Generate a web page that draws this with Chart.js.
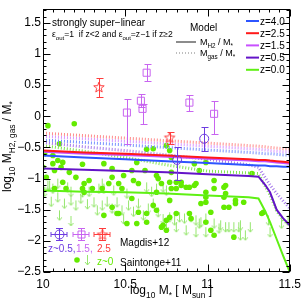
<!DOCTYPE html>
<html>
<head>
<meta charset="utf-8">
<script src="https://cdn.jsdelivr.net/npm/chart.js@4.4.1/dist/chart.umd.min.js"></script>
<style>
  html, body { margin: 0; padding: 0; background: #fff; }
</style>
</head>
<body>
<canvas id="myChart" width="306" height="302"></canvas>
<script>
// model grid in log10 M*
const massGrid = [10.0, 10.25, 10.5, 10.75, 11.0, 11.25, 11.31, 11.35, 11.38, 11.42, 11.46, 11.5];

// model M_H2 / M* (solid)
const h2Z40 = [-0.63, -0.66, -0.69, -0.72, -0.75, -0.78, -0.79, -0.79, -0.80, -0.80, -0.81, -0.81];
const h2Z25 = [-0.55, -0.58, -0.60, -0.63, -0.66, -0.69, -0.70, -0.70, -0.71, -0.72, -0.73, -0.74];
const h2Z15 = [-0.57, -0.60, -0.62, -0.65, -0.68, -0.71, -0.72, -0.72, -0.73, -0.74, -0.75, -0.76];
const h2Z05 = [-0.84, -0.86, -0.88, -0.90, -0.93, -0.96, -0.97, -1.10, -1.22, -1.50, -1.64, -1.75];
const h2Z00 = [-1.19, -1.21, -1.22, -1.24, -1.27, -1.30, -1.32, -1.52, -1.70, -1.97, -2.24, -2.50];

// model M_gas / M* (dotted)
const gasZ40 = [-0.38, -0.42, -0.46, -0.50, -0.54, -0.58, -0.59, -0.60, -0.60, -0.61, -0.62, -0.62];
const gasZ25 = [-0.27, -0.31, -0.35, -0.39, -0.43, -0.47, -0.48, -0.49, -0.50, -0.51, -0.52, -0.52];
const gasZ15 = [-0.32, -0.36, -0.40, -0.44, -0.48, -0.52, -0.53, -0.54, -0.55, -0.56, -0.57, -0.57];
const gasZ05 = [-0.42, -0.49, -0.55, -0.62, -0.69, -0.78, -0.82, -0.98, -1.10, -1.24, -1.36, -1.48];
const gasZ00 = [-0.47, -0.56, -0.66, -0.78, -0.88, -0.91, -0.92, -1.12, -1.26, -1.52, -1.66, -1.76];

// Magdis+12
const magdisZ05M = [10.98, 10.815];
const magdisZ05 = [-0.36, -0.70];
const magdisZ05Hi = [0.19, 0.20];
const magdisZ05Lo = [0.19, 0.33];
const magdisZ15M = [10.63, 10.595, 10.605, 10.51, 10.89, 11.04];
const magdisZ15 = [0.70, 0.25, 0.12, 0.06, 0.22, 0.04];
const magdisZ15Hi = [0.14, 0.11, 0.08, 0.22, 0.13, 0.21];
const magdisZ15Lo = [0.14, 0.10, 0.24, 0.50, 0.13, 0.32];
const magdisZ25M = [10.34, 10.77];
const magdisZ25 = [0.47, -0.34];
const magdisZ25Hi = [0.14, 0.09];
const magdisZ25Lo = [0.16, 0.10];

// Saintonge+11 detections [log M*, log Mgas/M*]
const saintongeDet = [
  [10.03,-0.15],[10.19,-0.12],[10.10,-0.44],[10.01,-0.60],[10.06,-0.63],[10.06,-0.76],[10.09,-0.71],
  [10.12,-0.74],[10.11,-0.82],[10.07,-0.87],[10.16,-0.90],[10.24,-0.77],[10.37,-0.76],[10.42,-0.84],
  [10.42,-0.98],[10.20,-0.98],[10.02,-0.98],[10.28,-1.03],[10.49,-0.95],[10.54,-0.87],[10.57,-0.74],
  [10.63,-0.53],[10.67,-0.52],[10.62,-0.87],[10.69,-0.95],[10.55,-1.03],[10.48,-1.16],[10.30,-1.16],
  [10.24,-1.16],[10.14,-1.16],[10.00,-0.82],[10.12,-1.06],[10.25,-1.08],[10.40,-1.08],[10.46,-1.08],
  [10.69,-1.22],[10.72,-1.08],[10.58,-1.08],[10.36,-1.16],[10.25,-1.22],[10.07,-1.16],[10.54,-1.32],
  [10.37,-1.59],[10.42,-1.46],[10.46,-1.56],[10.51,-1.72],[10.58,-1.54],[10.63,-1.56],[10.67,-1.43],
  [10.69,-1.51],[10.72,-1.78],[10.75,-1.83],[10.75,-1.67],[10.77,-1.06],[10.81,-1.16],[10.84,-1.11],
  [10.89,-1.14],[10.92,-1.11],[10.99,-1.22],[10.99,-1.30],[11.11,-1.11],[11.11,-1.24],[11.10,-1.30],
  [10.96,-1.40],[10.99,-1.38],[11.10,-1.46],[11.13,-1.46],[11.17,-1.35],[11.17,-1.40],[11.22,-1.38],
  [11.02,-1.54],[10.89,-1.56],[10.90,-1.64],[10.81,-1.56],[10.77,-1.62],[10.99,-1.70],[11.02,-1.83],
  [11.04,-1.91],[11.16,-1.94],[11.33,-1.56],[11.34,-1.54],[10.77,-1.35],[10.73,-1.75],[10.75,-0.47],
  [10.77,-0.55],[10.78,-0.66],[10.92,-0.76],[10.99,-0.74],[10.78,-0.90],[11.04,-1.03],[10.81,-1.06],
  [10.84,-1.06],[10.87,-1.14],[10.78,-1.16],[10.93,-1.08],[10.95,-0.87],[11.27,-0.92],[10.70,-1.00],
  [11.10,-1.14],[11.04,-1.16],[10.45,-1.56],[10.57,-1.72],[10.63,-1.70]
];

// Saintonge+11 upper limits
const saintongeLim = [
  [10.01,-1.13],[10.05,-1.29],[10.09,-1.22],[10.13,-1.32],[10.17,-1.27],[10.20,-1.35],[10.23,-1.24],
  [10.27,-1.33],[10.31,-1.30],[10.33,-1.43],[10.36,-1.35],[10.39,-1.29],[10.42,-1.40],[10.45,-1.30],
  [10.48,-1.43],[10.49,-1.57],[10.52,-1.35],[10.55,-1.45],[10.58,-1.32],[10.61,-1.51],[10.64,-1.40],
  [10.67,-1.32],[10.70,-1.46],[10.73,-1.57],[10.04,-1.03],[10.09,-1.00],[10.15,-1.06],[10.17,-1.13],
  [10.28,-1.13],[10.34,-1.08],[10.43,-1.11],[10.51,-1.16],[10.10,-1.51],[10.17,-1.60],[10.77,-1.54],
  [10.80,-1.59],[10.83,-1.54],[10.86,-1.56],[10.90,-1.54],[10.93,-1.59],[10.95,-1.64],[10.96,-1.62],
  [10.99,-1.56],[11.04,-1.64],[11.07,-1.72],[11.08,-1.67],[11.11,-1.70],[11.13,-1.70],[11.16,-1.70],
  [11.19,-1.70],[11.20,-1.67],[11.23,-1.83],[11.26,-1.70],[11.37,-1.59],[11.38,-1.78],[11.45,-1.64],
  [11.49,-1.59],[10.81,-1.70],[10.87,-1.75],[10.99,-1.78],[11.20,-1.83],[10.75,-1.67],[10.93,-1.78],
  [10.03,-1.03],[10.06,-1.08],[10.24,-1.14],[10.36,-1.00],[10.37,-1.08],[10.63,-1.06],[10.66,-1.13],
  [10.69,-1.08],[10.73,-1.06],[10.75,-1.11]
];

const xTicks = [10, 10.5, 11, 11.5];
const yTicks = [-2.5, -2, -1.5, -1, -0.5, 0, 0.5, 1, 1.5];

const FONT = '"Liberation Sans", Arial, sans-serif';
const C = {
  z40: 'rgb(45,85,255)', z25: 'rgb(255,25,25)', z15: 'rgb(200,80,255)',
  z05: 'rgb(100,20,200)', z00: 'rgb(95,240,20)',
  z40d: 'rgb(120,145,255)', z25d: 'rgb(255,140,140)', z15d: 'rgb(215,150,255)',
  z05d: 'rgb(165,120,235)', z00d: 'rgb(130,230,80)',
  circ: 'rgb(110,60,225)', sq: 'rgb(200,100,240)', star: 'rgb(255,60,60)',
  dot: 'rgb(100,235,0)', lim: 'rgb(150,230,110)'
};

function makeArrow(color) {
  const c = document.createElement('canvas');
  c.width = 7; c.height = 22;
  const g = c.getContext('2d');
  g.strokeStyle = color; g.lineWidth = 1;
  g.beginPath();
  g.moveTo(3.5, 11); g.lineTo(3.5, 21);
  g.moveTo(1, 18); g.lineTo(3.5, 21); g.lineTo(6, 18);
  g.stroke();
  return c;
}
function makeStar(color, R) {
  const s = Math.ceil(R * 2 + 3);
  const c = document.createElement('canvas');
  c.width = s; c.height = s;
  const g = c.getContext('2d');
  g.translate(s / 2, s / 2 + 0.5);
  g.strokeStyle = color; g.lineWidth = 1;
  g.beginPath();
  for (let i = 0; i < 10; i++) {
    const r = i % 2 ? R * 0.42 : R;
    const a = -Math.PI / 2 + i * Math.PI / 5;
    if (i === 0) g.moveTo(r * Math.cos(a), r * Math.sin(a));
    else g.lineTo(r * Math.cos(a), r * Math.sin(a));
  }
  g.closePath(); g.stroke();
  return c;
}
const arrowImg = makeArrow(C.lim);
const starImg = makeStar(C.star, 5.5);

const pts = (xs, ys) => xs.map((m, i) => ({x: m, y: ys[i]}));
const pairs = arr => arr.map(p => ({x: p[0], y: p[1]}));

function modelLine(ys, color, dotted, order) {
  return {
    data: pts(massGrid, ys), showLine: true, pointRadius: 0, fill: false, tension: 0,
    borderColor: color, borderWidth: dotted ? 3 : 2, borderDash: dotted ? [1, 2] : [],
    order: order
  };
}

// draw text with subscripts: parts = [[text, isSub], ...]
function rich(ctx, x, y, parts, size, color) {
  ctx.fillStyle = color;
  ctx.textBaseline = 'alphabetic';
  ctx.textAlign = 'left';
  let cx = x;
  parts.forEach(([t, sub]) => {
    const fs = sub ? size * 0.7 : size;
    ctx.font = fs + 'px ' + FONT;
    ctx.fillText(t, cx, y + (sub ? size * 0.3 : 0));
    cx += ctx.measureText(t).width;
  });
  return cx - x;
}

const errorBars = {
  id: 'errorBars',
  afterDatasetsDraw(chart) {
    const {ctx, scales: {x, y}} = chart;
    chart.data.datasets.forEach(ds => {
      if (!ds.errHi) return;
      ctx.save();
      ctx.strokeStyle = ds.borderColor;
      ctx.lineWidth = 1;
      ds.data.forEach((p, i) => {
        const px = Math.round(x.getPixelForValue(p.x)) + 0.5;
        const yt = Math.round(y.getPixelForValue(p.y + ds.errHi[i])) + 0.5;
        const yb = Math.round(y.getPixelForValue(p.y - ds.errLo[i])) + 0.5;
        ctx.beginPath();
        ctx.moveTo(px, yt); ctx.lineTo(px, yb);
        ctx.moveTo(px - 3, yt); ctx.lineTo(px + 4, yt);
        ctx.moveTo(px - 3, yb); ctx.lineTo(px + 4, yb);
        ctx.stroke();
      });
      ctx.restore();
    });
  }
};

const frame = {
  id: 'frame',
  afterDraw(chart) {
    const {ctx, chartArea: a, scales: {x, y}} = chart;
    const L = Math.round(a.left) + 0.5, R = Math.round(a.right) - 0.5;
    const T = Math.round(a.top) + 0.5, B = Math.round(a.bottom) - 0.5;
    ctx.save();
    ctx.strokeStyle = '#000';
    ctx.lineWidth = 1;
    ctx.strokeRect(L, T, R - L, B - T);
    ctx.beginPath();
    for (let i = 0; i <= 24; i++) {
      const v = 10 + i * 0.0625;
      const px = Math.round(x.getPixelForValue(v)) + 0.5;
      const len = i % 8 === 0 ? 7 : 3;
      ctx.moveTo(px, B); ctx.lineTo(px, B - len);
      ctx.moveTo(px, T); ctx.lineTo(px, T + len);
    }
    for (let i = 0; i <= 42; i++) {
      const v = -2.5 + i * 0.1;
      const py = Math.round(y.getPixelForValue(v)) + 0.5;
      const len = i % 5 === 0 ? 7 : 3;
      ctx.moveTo(L, py); ctx.lineTo(L + len, py);
      ctx.moveTo(R, py); ctx.lineTo(R - len, py);
    }
    ctx.stroke();
    ctx.restore();
  }
};

const labels = {
  id: 'labels',
  afterDraw(chart) {
    const ctx = chart.ctx;
    ctx.save();
    // axis titles
    rich(ctx, 130, 294, [['log', 0], ['10', 1], [' M', 0], ['*', 1], [' [ M', 0], ['sun', 1], [' ]', 0]], 12, '#000');
    ctx.save();
    ctx.translate(11, 192);
    ctx.rotate(-Math.PI / 2);
    rich(ctx, 0, 0, [['log', 0], ['10', 1], [' M', 0], ['H2, gas', 1], [' / M', 0], ['*', 1]], 12, '#000');
    ctx.restore();

    // top-left annotation
    rich(ctx, 52, 26, [['strongly super\u2212linear', 0]], 10, '#000');
    rich(ctx, 52, 37, [['\u03b5', 0], ['out', 1], ['=1  if z<2 and \u03b5', 0], ['out', 1], ['=z\u22121 if z\u22652', 0]], 8.6, '#000');

    // model legend
    rich(ctx, 190, 31, [['Model', 0]], 10, '#000');
    ctx.lineWidth = 2;
    ctx.strokeStyle = 'rgb(140,140,140)';
    ctx.beginPath(); ctx.moveTo(176, 42); ctx.lineTo(196, 42); ctx.stroke();
    ctx.strokeStyle = 'rgb(190,190,190)';
    ctx.setLineDash([1, 2]);
    ctx.beginPath(); ctx.moveTo(176, 53); ctx.lineTo(196, 53); ctx.stroke();
    ctx.setLineDash([]);
    rich(ctx, 200, 45, [['M', 0], ['H2', 1], [' / M', 0], ['*', 1]], 9, '#000');
    rich(ctx, 200, 56, [['M', 0], ['gas', 1], [' / M', 0], ['*', 1]], 9, '#000');

    // redshift legend
    const zl = [['z=4.0', C.z40], ['z=2.5', C.z25], ['z=1.5', C.z15], ['z=0.5', C.z05], ['z=0.0', C.z00]];
    zl.forEach(([t, c], i) => {
      const yy = 21 + i * 12.2;
      ctx.strokeStyle = c; ctx.lineWidth = 2;
      ctx.beginPath(); ctx.moveTo(246, yy); ctx.lineTo(259, yy); ctx.stroke();
      rich(ctx, 260, yy + 3.5, [[t, 0]], 10, '#000');
    });

    // observation legend
    ctx.lineWidth = 1;
    const marks = [[59, C.circ], [81, C.sq], [102, C.star]];
    marks.forEach(([mx, c], i) => {
      ctx.strokeStyle = c;
      ctx.beginPath();
      ctx.moveTo(mx - 8, 234.5); ctx.lineTo(mx + 8, 234.5);
      ctx.moveTo(mx - 8, 232); ctx.lineTo(mx - 8, 237);
      ctx.moveTo(mx + 8, 232); ctx.lineTo(mx + 8, 237);
      ctx.moveTo(mx + 0.5, 228); ctx.lineTo(mx + 0.5, 241);
      ctx.moveTo(mx - 3, 228.5); ctx.lineTo(mx + 4, 228.5);
      ctx.moveTo(mx - 3, 240.5); ctx.lineTo(mx + 4, 240.5);
      ctx.stroke();
      ctx.beginPath();
      if (i === 0) ctx.arc(mx + 0.5, 234.5, 4.5, 0, Math.PI * 2);
      if (i === 1) ctx.rect(mx - 3, 231, 7, 7);
      ctx.stroke();
      if (i === 2) ctx.drawImage(starImg, mx + 0.5 - starImg.width / 2, 234.5 - starImg.height / 2);
    });
    rich(ctx, 48, 252, [['z~0.5,', 0]], 10, C.circ);
    rich(ctx, 76, 252, [['1.5,', 0]], 10, C.sq);
    rich(ctx, 97, 252, [['2.5', 0]], 10, C.star);
    rich(ctx, 120, 246, [['Magdis+12', 0]], 10, '#000');
    ctx.fillStyle = C.dot;
    ctx.beginPath(); ctx.arc(77, 260, 2.8, 0, Math.PI * 2); ctx.fill();
    ctx.drawImage(arrowImg, 84, 244);
    rich(ctx, 97, 265, [['z~0', 0]], 10, C.dot);
    rich(ctx, 120, 266, [['Saintonge+11', 0]], 10, '#000');
    ctx.restore();
  }
};

new Chart(document.getElementById('myChart').getContext('2d'), {
  type: 'scatter',
  data: {
    datasets: [
      {data: pts(magdisZ25M, magdisZ25), errHi: magdisZ25Hi, errLo: magdisZ25Lo, borderColor: C.star,
       pointStyle: starImg, pointRadius: 5, order: 0},
      {data: pts(magdisZ15M, magdisZ15), errHi: magdisZ15Hi, errLo: magdisZ15Lo, borderColor: C.sq,
       backgroundColor: 'rgba(0,0,0,0)', pointStyle: 'rect', pointRadius: 5, borderWidth: 1, order: 0},
      {data: pts(magdisZ05M, magdisZ05), errHi: magdisZ05Hi, errLo: magdisZ05Lo, borderColor: C.circ,
       backgroundColor: 'rgba(0,0,0,0)', pointStyle: 'circle', pointRadius: 4.5, borderWidth: 1, order: 0},
      modelLine(h2Z25, C.z25, false, 1),
      modelLine(h2Z15, C.z15, false, 1),
      modelLine(h2Z40, C.z40, false, 1),
      modelLine(h2Z05, C.z05, false, 1),
      modelLine(h2Z00, C.z00, false, 1),
      modelLine(gasZ25, C.z25d, true, 2),
      modelLine(gasZ15, C.z15d, true, 2),
      modelLine(gasZ40, C.z40d, true, 2),
      modelLine(gasZ05, C.z05d, true, 2),
      modelLine(gasZ00, C.z00d, true, 2),
      {data: pairs(saintongeDet), pointStyle: 'circle', pointRadius: 2.8, borderWidth: 0,
       backgroundColor: C.dot, order: 3},
      {data: pairs(saintongeLim), pointStyle: arrowImg, pointRadius: 5, order: 4}
    ]
  },
  options: {
    responsive: false,
    animation: false,
    devicePixelRatio: 1,
    layout: {padding: {top: 8, right: 14, left: 0, bottom: 0}},
    plugins: {legend: {display: false}, tooltip: {enabled: false}},
    scales: {
      x: {
        type: 'linear', min: 10, max: 11.5,
        afterFit: s => { s.height = 30; },
        afterBuildTicks: s => { s.ticks = xTicks.map(v => ({value: v})); },
        grid: {display: false, drawTicks: false},
        border: {display: false},
        ticks: {padding: 5, color: '#000', font: {family: FONT, size: 12},
                callback: v => String(v)}
      },
      y: {
        type: 'linear', min: -2.5, max: 1.72,
        afterFit: s => { s.width = 43; },
        afterBuildTicks: s => { s.ticks = yTicks.map(v => ({value: v})); },
        grid: {display: false, drawTicks: false},
        border: {display: false},
        ticks: {padding: 2, color: '#000', font: {family: FONT, size: 12},
                callback: v => String(v).replace('-', '\u2212')}
      }
    }
  },
  plugins: [errorBars, frame, labels]
});
</script>
</body>
</html>
